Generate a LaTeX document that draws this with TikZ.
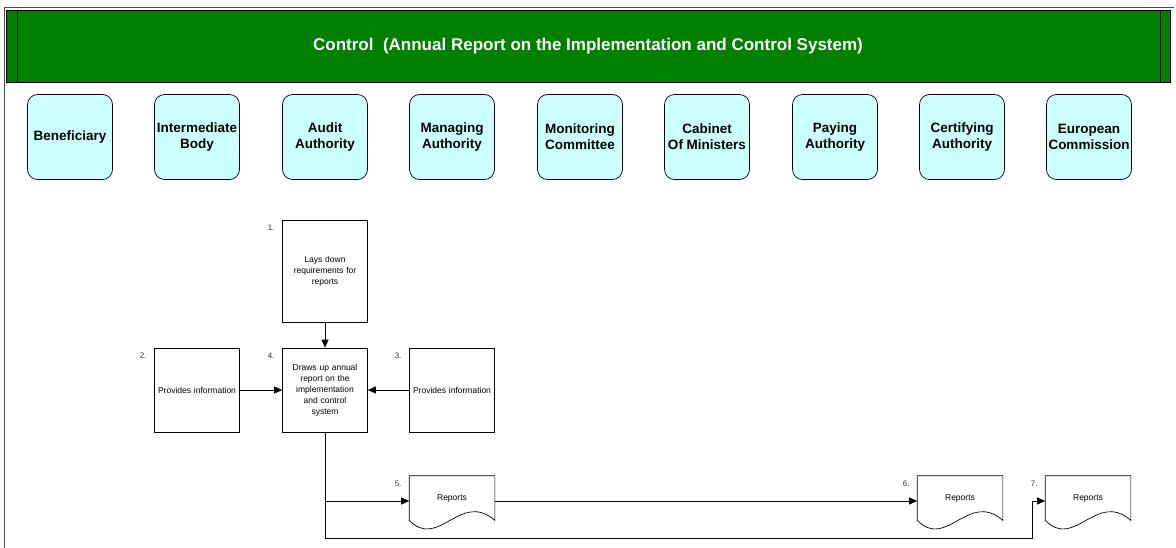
\documentclass[tikz,border=0pt]{standalone}
\usepackage{fontspec}
\setmainfont{Liberation Sans}
\usetikzlibrary{arrows.meta,calc}
\definecolor{hdrgreen}{RGB}{0,128,0}
\definecolor{lanecyan}{RGB}{204,255,255}
\hyphenpenalty=10000
\tikzset{
lane/.style={draw=black, fill=lanecyan, rounded corners=10pt, minimum width=85pt, minimum height=85pt, inner sep=0pt, align=center, font=\fontsize{13.5}{16}\selectfont\bfseries},
task/.style={draw=black, minimum width=85pt, text width=82pt, inner sep=0pt, align=center, font=\fontsize{8.5}{11}\selectfont},
doc/.style={minimum width=85pt, minimum height=50pt, inner sep=0pt, font=\fontsize{8.5}{11}\selectfont},
num/.style={font=\fontsize{8}{10}\selectfont, text=black!80},
flow/.style={-{Triangle[length=8pt,width=7pt]}}
}
\begin{document}
\begin{tikzpicture}[x=1pt,y=-1pt, line width=0.7pt]
\useasboundingbox (0,0) rectangle (1176,548);
\draw[black!70] (4,548)--(4,7)--(1174,7);
\node[draw=black, fill=hdrgreen, minimum width=1164pt, minimum height=72pt, text=white, font=\fontsize{17}{20}\selectfont\bfseries] (hdr) at (588,46) {Control\ \ (Annual Report on the Implementation and Control System)};
\draw ($(hdr.north west)+(12,0)$)--($(hdr.south west)+(12,0)$);
\draw ($(hdr.north east)+(-10,0)$)--($(hdr.south east)+(-10,0)$);
\foreach \n/\x/\t in {ben/70/Beneficiary, ibd/197/Intermediate\\Body, aud/325/Audit\\Authority,
  man/452/Managing\\Authority, mon/580/Monitoring\\Committee, cab/707/Cabinet\\Of Ministers,
  pay/835/Paying\\Authority, cer/962/Certifying\\Authority, euc/1089/European\\Commission}
  \node[lane] (\n) at (\x,137) {\t};
\node[task, minimum height=102pt] (t1) at (325,271) {Lays down\\requirements for\\reports};
\node[task, minimum height=84pt] (t2) at (197,390) {Provides information};
\node[task, minimum height=84pt] (t4) at (325,390) {Draws up annual\\report on the\\implementation\\and control\\system};
\node[task, minimum height=84pt] (t3) at (452,390) {Provides information};
\node[doc] (r5) at (452,501) {\raisebox{6pt}{Reports}};
\node[doc] (r6) at (960,501) {\raisebox{6pt}{Reports}};
\node[doc] (r7) at (1088,501) {\raisebox{6pt}{Reports}};
\foreach \d in {r5,r6,r7}
  \draw ($(\d.south west)+(0,-6)$)--(\d.north west)--(\d.north east)--($(\d.south east)+(0,-6)$)
  .. controls ($(\d.south east)+(-35,-36)$) and ($(\d.south west)+(30,24)$) .. ($(\d.south west)+(0,-6)$);
\node[num, anchor=north east] (n1) at ($(t1.north west)+(-4,2)$) {1.};
\node[num, anchor=north east] (n2) at ($(t2.north west)+(-4,2)$) {2.};
\node[num, anchor=north east] (n4) at ($(t4.north west)+(-4,2)$) {4.};
\node[num, anchor=north east] (n3) at ($(t3.north west)+(-4,2)$) {3.};
\node[num, anchor=north east] (n5) at ($(r5.north west)+(-4,2)$) {5.};
\node[num, anchor=north east] (n6) at ($(r6.north west)+(-4,2)$) {6.};
\node[num, anchor=north east] (n7) at ($(r7.north west)+(-4,2)$) {7.};
\coordinate (turn) at (1032,538);
\draw[flow] (t1)--(t4);
\draw[flow] (t2)--(t4);
\draw[flow] (t3)--(t4);
\draw[flow] (t4.south) |- (r5.west);
\draw[flow] (r5.east)--(r6.west);
\draw[flow] (t4.south) |- (turn) |- (r7.west);
\end{tikzpicture}
\end{document}
